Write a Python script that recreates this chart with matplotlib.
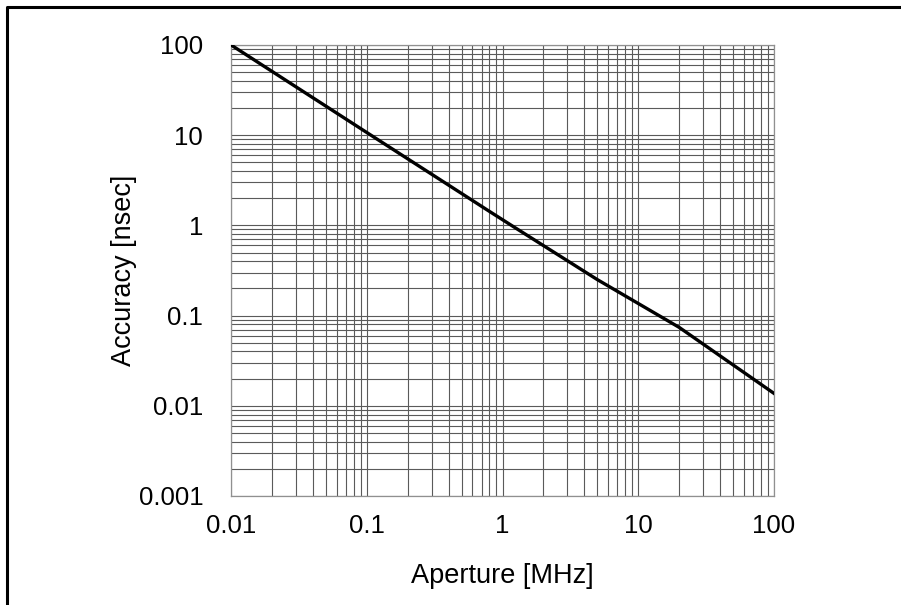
"""Accuracy vs aperture, log-log chart."""

import matplotlib

matplotlib.use("Agg")

import matplotlib.pyplot as plt
from matplotlib.lines import Line2D
from matplotlib.ticker import FixedLocator, LogLocator, NullFormatter

aperture_mhz = [0.01, 0.1, 0.8, 1.2, 5.0, 20.0, 100.0]
accuracy_ns = [100.0, 10.7, 1.43, 0.97, 0.25, 0.074, 0.0137]

x_ticks = [0.01, 0.1, 1, 10, 100]
x_labels = ["0.01", "0.1", "1", "10", "100"]
y_ticks = [0.001, 0.01, 0.1, 1, 10, 100]
y_labels = ["0.001", "0.01", "0.1", "1", "10", "100"]

plt.rcParams["font.family"] = ["Liberation Sans", "DejaVu Sans"]

fig = plt.figure(figsize=(9.01, 6.05), dpi=100)
ax = fig.add_axes([0.2564, 0.1802, 0.6027, 0.7455])

ax.plot(aperture_mhz, accuracy_ns, color="black", linewidth=2.4, zorder=3)
ax.set_xscale("log")
ax.set_yscale("log")
ax.set_xlim(0.01, 100)
ax.set_ylim(0.001, 100)

ax.xaxis.set_major_locator(FixedLocator(x_ticks))
ax.set_xticklabels(x_labels)
ax.yaxis.set_major_locator(FixedLocator(y_ticks))
ax.set_yticklabels(y_labels)
ax.xaxis.set_minor_locator(LogLocator(base=10, subs=range(2, 10), numticks=20))
ax.yaxis.set_minor_locator(LogLocator(base=10, subs=range(2, 10), numticks=20))
ax.xaxis.set_minor_formatter(NullFormatter())
ax.yaxis.set_minor_formatter(NullFormatter())

ax.tick_params(axis="both", which="both", length=0, labelsize=18.5)
ax.tick_params(axis="x", pad=13)
ax.tick_params(axis="y", pad=20)

ax.grid(True, which="both", color="#5a5a5a", linewidth=0.8)
ax.set_axisbelow(True)
for side in ax.spines.values():
    side.set_color("#909090")
    side.set_linewidth(0.9)

ax.set_xlabel("Aperture [MHz]", fontsize=19.5)
ax.set_ylabel("Accuracy [nsec]", fontsize=19.5)
ax.xaxis.set_label_coords(0.5, -0.149)
ax.yaxis.set_label_coords(-0.173, 0.5)

# frame on top and left edges of the picture
fig.add_artist(Line2D([0.0078, 0.0078, 1.0], [0.0, 0.9884, 0.9884],
                      color="black", linewidth=2.2, transform=fig.transFigure))

fig.savefig("out.png", dpi=100, facecolor="white")
